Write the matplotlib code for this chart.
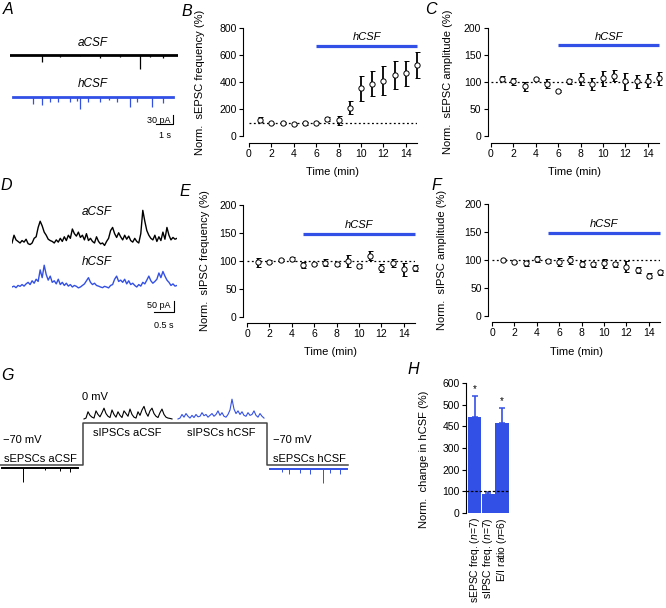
import matplotlib.pyplot as plt
import numpy as np

W, H = 666, 608
BLUE = '#3350e6'

plt.rcParams['font.family'] = ['Liberation Sans', 'DejaVu Sans']
plt.rcParams['mathtext.fontset'] = 'custom'
plt.rcParams['mathtext.it'] = 'Liberation Sans:italic'
plt.rcParams['mathtext.rm'] = 'Liberation Sans'

# ---------------- data ----------------
minutes = list(range(1, 16))

# B: sEPSC frequency (% of baseline)
sepsc_freq = [121, 93, 97, 91, 94, 100, 124, 116, 210, 353, 388, 410, 454, 464, 524]
sepsc_freq_err = [20, 5, 6, 8, 10, 4, 15, 33, 48, 93, 95, 105, 104, 94, 96]
# C: sEPSC amplitude
sepsc_amp = [106, 101, 92, 105, 97, 84, 101, 106, 97, 107, 112, 101, 101, 102, 107]
sepsc_amp_err = [5, 6, 8, 3, 8, 2, 4, 11, 11, 14, 10, 15, 12, 12, 12]
# E: sIPSC frequency
sipsc_freq = [98, 99, 102, 104, 93, 95, 97, 94, 100, 91, 109, 88, 96, 85, 88]
sipsc_freq_err = [8, 3, 2, 4, 5, 2, 6, 3, 10, 4, 8, 7, 7, 12, 5]
# F: sIPSC amplitude
sipsc_amp = [100, 97, 94, 102, 98, 97, 100, 93, 92, 94, 92, 88, 82, 72, 78]
sipsc_amp_err = [2, 2, 5, 5, 3, 7, 8, 5, 4, 8, 5, 10, 5, 5, 5]

# H: summary
summary_labels = [r'sEPSC freq. ($\it{n}$=7)', r'sIPSC freq. ($\it{n}$=7)', r'E/I ratio ($\it{n}$=6)']
summary_vals = [445, 88, 414]
summary_err = [96, 7, 72]
summary_sig = [True, False, True]
summary_ticks = [0, 100, 200, 300, 400, 500, 600]
summary_ticklabels = ['0', '100', '200', '300', '450', '500', '600']

# A: sEPSC events (time s, amplitude pA)
a_ctrl_t = [1.88, 2.94, 4.1, 5.3, 6.47, 7.65, 8.24, 9.0]
a_ctrl_amp = [22, 6, 4, 10, 6, 48, 7, 9]
a_hcsf_t = [1.35, 1.88, 2.35, 2.82, 3.53, 3.94, 4.12, 4.59, 5.29, 5.8, 6.29, 7.06, 7.47, 8.35, 9.0]
a_hcsf_amp = [24, 27, 18, 15, 18, 12, 39, 15, 18, 10, 18, 33, 15, 33, 21]

# D: sIPSC traces (pA, sampled every 50 ms)
d_ctrl = [0, 35, 14, 7, 0, 11, 4, 17, -3, -7, 0, 21, 28, 70, 98, 77, 49, 35, 17, 11, 7, 0,
          14, 4, 21, 7, 28, 11, 35, 21, 63, 42, 31, 49, 25, 35, 14, 42, 11, 21, 7, 0, 28, 7,
          -4, 0, -11, 7, 21, 56, 70, 42, 25, 46, 28, 14, 35, 17, 31, 11, 4, 21, 7, 0, 42, 147,
          98, 56, 35, 21, 14, 35, 7, 28, 11, 49, 17, 70, 35, 14, 25, 17, 21]
d_hcsf = [0, 4, -3, 7, 3, 11, 4, 14, 21, 11, 28, 17, 35, 25, 77, 42, 98, 56, 31, 49, 21, 28,
          14, 35, 11, 21, 7, 17, 4, 11, 0, 7, 3, -4, 0, 7, 14, 28, 42, 21, 11, 17, 7, 4, 0, -3,
          3, 0, -4, 7, 11, 35, 49, 25, 31, 21, 35, 14, 28, 11, 17, 7, 0, 11, 4, 21, 14, 31, 49,
          28, 17, 25, 35, 63, 42, 70, 49, 31, 21, 7, 14, 4, 7]

# G: protocol
step_t = [0, 4.15, 13.35, 17.4]
step_v = [-70, 0, -70]
g_epsc_ctrl_t = [1.15, 2.25, 3.0, 3.5]
g_epsc_ctrl_amp = [115, 15, 25, 35]
g_epsc_hcsf_t = [14.1, 14.45, 15.0, 15.5, 16.15, 16.5, 17.0]
g_epsc_hcsf_amp = [25, 40, 33, 40, 115, 33, 40]
g_ipsc_ctrl = [0, 5, 40, 20, 10, 5, 45, 25, 12, 35, 60, 30, 15, 8, 50, 25, 10, 40, 20, 8, 45,
               30, 15, 55, 25, 10, 5, 40, 20, 50, 70, 35, 15, 45, 60, 30, 15, 8, 35, 55, 25, 10,
               5, 3, 0]
g_ipsc_hcsf = [0, 5, 25, 10, 30, 15, 5, 20, 8, 25, 12, 15, 35, 18, 25, 10, 20, 30, 15, 25, 45,
               20, 35, 15, 10, 25, 50, 110, 55, 30, 45, 25, 40, 20, 15, 35, 20, 25, 45, 20, 10,
               30, 15, 5]

fig = plt.figure(figsize=(W / 100, H / 100), dpi=100)


def axes_px(left, top, right, bottom):
    return fig.add_axes([left / W, 1 - bottom / H, (right - left) / W, (bottom - top) / H])


def letter(x, y, s):
    fig.text(x / W, 1 - y / H, s, fontsize=11.5, style='italic', ha='center', va='center')


def time_course(box, mean, err, ylim, yticks, bar_start, bar_level, ylabel,
                ylab_x, xlab_y, left_out, bottom_out):
    ax = axes_px(*box)
    ax.axhline(100, color='k', ls=(0, (1.5, 2)), lw=0.9, zorder=1)
    ax.errorbar(minutes, mean, yerr=err, fmt='o', color='k', mfc='white', ms=3.8,
                mew=0.7, elinewidth=1.3, capsize=1.8, capthick=1.1, zorder=3, clip_on=False)
    ax.plot([bar_start, 15], [bar_level, bar_level], color=BLUE, lw=2.3,
            solid_capstyle='butt', clip_on=False)
    ax.text((bar_start + 15) / 2, bar_level + (ylim[1] - ylim[0]) * 0.035, 'hCSF',
            style='italic', fontsize=8, ha='center', va='bottom')
    ax.set_xlim(0, 15)
    ax.set_ylim(ylim)
    ax.set_xticks(range(0, 15, 2))
    ax.set_yticks(yticks)
    for s in ['top', 'right']:
        ax.spines[s].set_visible(False)
    ax.spines['left'].set_position(('outward', left_out))
    ax.spines['bottom'].set_position(('outward', bottom_out))
    ax.spines['bottom'].set_bounds(0, 15)
    for s in ['left', 'bottom']:
        ax.spines[s].set_linewidth(0.8)
    ax.tick_params(direction='out', length=3, width=0.8, labelsize=7.5, pad=1.5)
    ax.set_ylabel(ylabel, fontsize=8)
    ax.set_xlabel('Time (min)', fontsize=8)
    ax.yaxis.set_label_coords(ylab_x, 0.5)
    ax.yaxis.label.set_va('center')
    ax.xaxis.set_label_coords(0.5, xlab_y)
    ax.xaxis.label.set_va('center')
    return ax


# ---------------- B, C, E, F ----------------
time_course((249, 28, 417, 136), sepsc_freq, sepsc_freq_err, (0, 800), range(0, 801, 200),
            6, 670, 'Norm.  sEPSC frequency (%)', -0.29, -0.33, 4.3, 5)
time_course((491, 28, 659, 136), sepsc_amp, sepsc_amp_err, (0, 200), range(0, 201, 50),
            6, 168, 'Norm.  sEPSC amplitude (%)', -0.256, -0.33, 2.5, 5)
time_course((247, 205, 415, 317), sipsc_freq, sipsc_freq_err, (0, 200), range(0, 201, 50),
            5, 149, 'Norm.  sIPSC frequency (%)', -0.25, -0.31, 3, 4)
time_course((492, 204, 660, 316), sipsc_amp, sipsc_amp_err, (0, 200), range(0, 201, 50),
            5, 149, 'Norm.  sIPSC amplitude (%)', -0.298, -0.32, 3, 4)

# ---------------- A ----------------
axA = axes_px(10, 35, 178, 145)
axA.set_xlim(0, 9.88)
axA.set_ylim(-300, 66.7)
axA.axis('off')
axA.plot([0, 9.88], [0, 0], color='k', lw=2)
axA.vlines(a_ctrl_t, 0, -np.array(a_ctrl_amp), color='k', lw=0.9)
axA.plot([0.18, 9.6], [-140, -140], color=BLUE, lw=2)
axA.vlines(a_hcsf_t, -140, -140 - np.array(a_hcsf_amp), color=BLUE, lw=0.9)
axA.text(4.88, 40, 'aCSF', style='italic', fontsize=8.5, ha='center', va='center')
axA.text(4.88, -97, 'hCSF', style='italic', fontsize=8.5, ha='center', va='center')
axA.plot([8.59, 9.59, 9.59], [-230, -230, -200], color='k', lw=0.8)
axA.text(9.45, -218, '30 pA', fontsize=6.5, ha='right', va='center')
axA.text(9.09, -268, '1 s', fontsize=6.5, ha='center', va='center')

# ---------------- D ----------------
axD = axes_px(12, 200, 177, 330)
t_d = np.arange(len(d_ctrl)) * 0.05
axD.set_xlim(0, t_d[-1])
axD.set_ylim(-391.5, 193.5)
axD.axis('off')
axD.plot(t_d, d_ctrl, color='k', lw=1)
axD.plot(t_d, np.array(d_hcsf) - 198, color=BLUE, lw=1)
axD.text(2.11, 139, 'aCSF', style='italic', fontsize=8.5, ha='center', va='center')
axD.text(2.11, -85, 'hCSF', style='italic', fontsize=8.5, ha='center', va='center')
axD.plot([3.53, 4.03, 4.03], [-310, -310, -260], color='k', lw=0.8)
axD.text(3.95, -283, '50 pA', fontsize=6.5, ha='right', va='center')
axD.text(3.78, -369, '0.5 s', fontsize=6.5, ha='center', va='center')

# ---------------- G ----------------
axG = axes_px(0, 385, 350, 495)
axG.set_xlim(0, 17.5)
axG.set_ylim(-120, 63.3)
axG.axis('off')
gain_e = 0.2
gain_i = 0.3
axG.plot(np.repeat(step_t, 2)[1:-1], np.repeat(step_v, 2), color='#444444', lw=1.1)
axG.plot([0.1, 3.9], [-75, -75], color='k', lw=1.4)
axG.vlines(g_epsc_ctrl_t, -75, -75 - gain_e * np.array(g_epsc_ctrl_amp), color='k', lw=0.7)
axG.plot([13.5, 17.35], [-77, -77], color=BLUE, lw=1.4)
axG.vlines(g_epsc_hcsf_t, -77, -77 - gain_e * np.array(g_epsc_hcsf_amp), color=BLUE, lw=0.7)
t_gc = 4.2 + np.arange(len(g_ipsc_ctrl)) * 0.1
t_gh = 8.9 + np.arange(len(g_ipsc_hcsf)) * 0.1
axG.plot(t_gc, 6.7 + gain_i * np.array(g_ipsc_ctrl), color='k', lw=0.8)
axG.plot(t_gh, 6.7 + gain_i * np.array(g_ipsc_hcsf), color=BLUE, lw=0.8)
for x, y, s in [(0.15, -28.3, '\u221270 mV'), (0.2, -60, 'sEPSCs aCSF'),
                (4.1, 43, '0 mV'), (4.65, -16.7, 'sIPSCs aCSF'),
                (9.35, -16.7, 'sIPSCs hCSF'), (13.65, -28.3, '\u221270 mV'),
                (13.65, -60, 'sEPSCs hCSF')]:
    axG.text(x, y, s, fontsize=8, ha='left', va='center')

# ---------------- H ----------------
axH = axes_px(466, 383, 510, 513)
pos = np.arange(len(summary_vals))
axH.bar(pos, summary_vals, width=0.95, color=BLUE, zorder=2)
axH.errorbar(pos, summary_vals, yerr=[[0] * len(summary_err), summary_err], fmt='none',
             ecolor=BLUE, elinewidth=1.2, capsize=2, capthick=1.1, zorder=2)
axH.axhline(100, color='k', ls=(0, (2, 1.5)), lw=0.9, zorder=3)
for p, v, e, sig in zip(pos, summary_vals, summary_err, summary_sig):
    if sig:
        axH.text(p, v + e + 6, '*', fontsize=7, ha='center', va='bottom')
axH.set_xlim(-0.62, 2.58)
axH.set_ylim(0, 600)
axH.set_yticks(summary_ticks)
axH.set_yticklabels(summary_ticklabels)
axH.set_xticks(pos)
axH.set_xticklabels(summary_labels, rotation=90, va='top', ha='center')
for s in ['top', 'right', 'bottom']:
    axH.spines[s].set_visible(False)
axH.spines['left'].set_linewidth(0.8)
axH.tick_params(axis='y', direction='out', length=3, width=0.8, labelsize=7.5, pad=1.5)
axH.tick_params(axis='x', length=0, labelsize=7.5, pad=3)
axH.set_ylabel('Norm.  change in hCSF (%)', fontsize=8)
axH.yaxis.set_label_coords(-0.95, 0.41)
axH.yaxis.label.set_va('center')

# panel letters
letter(8, 10, 'A')
letter(187, 11, 'B')
letter(431, 9, 'C')
letter(6, 186, 'D')
letter(185, 192, 'E')
letter(436, 186, 'F')
letter(7, 375, 'G')
letter(413, 370, 'H')

fig.savefig('out.png', dpi=100)
